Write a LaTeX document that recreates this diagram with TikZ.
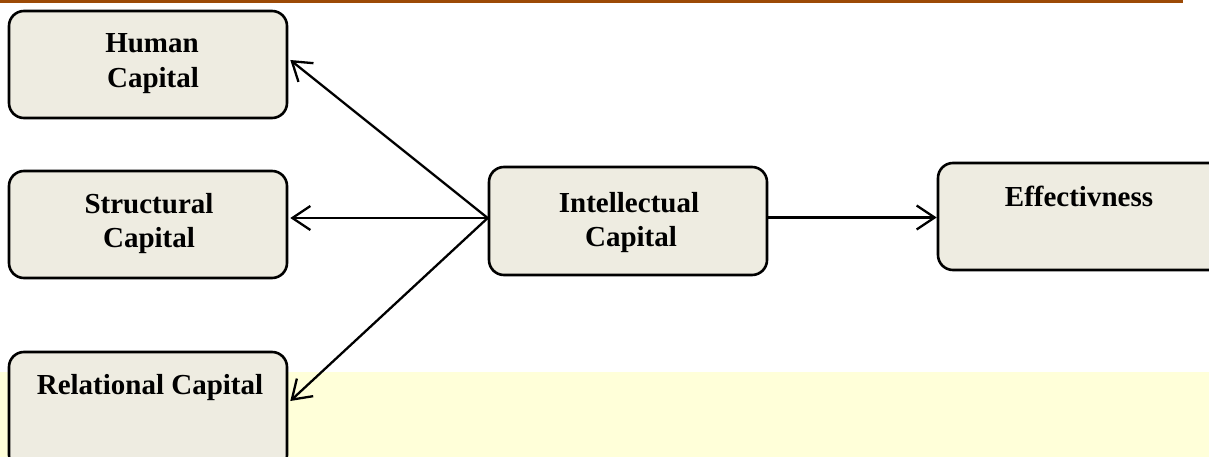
\documentclass[tikz,border=0pt]{standalone}
\usepackage{fontspec}
\setmainfont{Liberation Serif}
\usetikzlibrary{arrows.meta}
\definecolor{boxfill}{RGB}{238,236,225}
\definecolor{topline}{RGB}{156,74,6}
\definecolor{band}{RGB}{255,255,217}
\tikzset{
  capbox/.style={draw=black, line width=2.6pt, fill=boxfill, rounded corners=15pt, minimum width=278pt, minimum height=107pt, inner sep=0pt},
  lbl/.style={anchor=base, font=\fontsize{29}{35}\selectfont\bfseries, inner sep=0pt},
  arr/.style={line width=2.3pt, -{Straight Barb[length=18pt,width=24pt,line width=2.3pt]}}
}
\begin{document}
\begin{tikzpicture}[x=1pt,y=-1pt]
\useasboundingbox (0,0) rectangle (1209,457);
\clip (0,0) rectangle (1209,457);
% background band and top rule
\fill[band] (0,372) rectangle (1209,457);
\fill[topline] (0,0) rectangle (1183,3.5);
% boxes
\node[capbox] (hc) at (148,64.5) {};
\node[capbox] (sc) at (148,224.5) {};
\node[capbox, minimum height=118pt] (rc) at (148,411) {};
\node[capbox, minimum height=108pt] (ic) at (628,221) {};
\node[capbox, minimum height=107pt, minimum width=290pt] (ef) at (1083,216.5) {};
% labels
\node[lbl] (hct1) at (152,53) {Human};
\node[lbl] (hct2) at (153,87.5) {Capital};
\node[lbl] (sct1) at (149,213) {Structural};
\node[lbl] (sct2) at (149,247) {Capital};
\node[lbl] (rct) at (150,394) {Relational Capital};
\node[lbl] (ict1) at (629,212) {Intellectual};
\node[lbl] (ict2) at (631,246) {Capital};
\node[lbl] (eft) at (1079,207) {Effectivness};
% connectors
\coordinate (src) at ([yshift=3pt]ic.west);
\draw[arr] (src) -- ([xshift=2pt,yshift=4.5pt]hc.east);
\draw[arr] (src) -- ([xshift=2pt,yshift=6.5pt]sc.east);
\draw[arr] (src) -- ([xshift=2pt,yshift=10pt]rc.east);
\draw[arr] ([yshift=3.5pt]ic.east) -- ([yshift=-1pt]ef.west);
\end{tikzpicture}
\end{document}
